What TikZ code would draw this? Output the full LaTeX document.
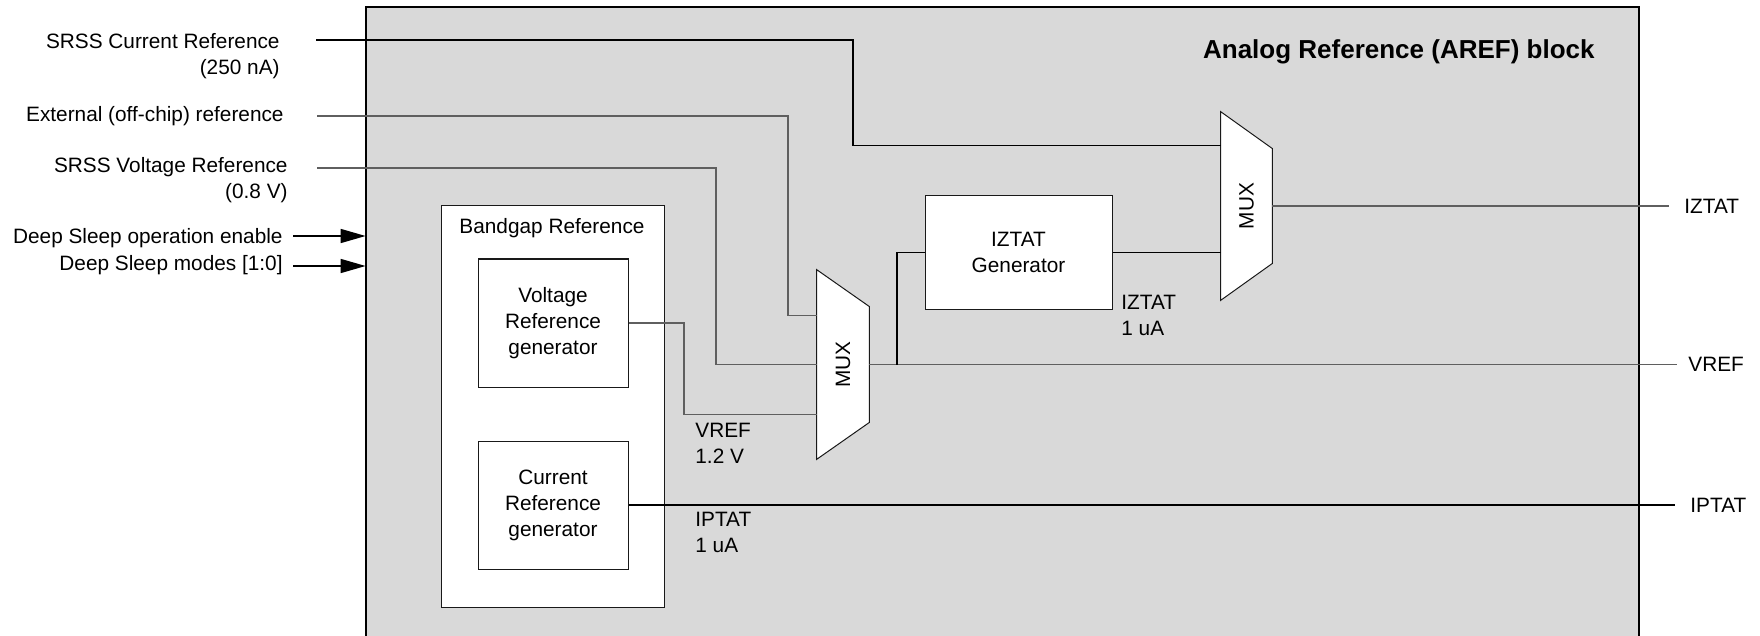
\documentclass[tikz,border=0pt]{standalone}
\usepackage{fontspec}
\setmainfont{Liberation Sans}
\usepackage{graphicx}
\usepackage{tikz}
\usetikzlibrary{arrows.meta, positioning, calc}
\definecolor{arefgray}   {RGB}{217, 217, 217}
\definecolor{arefwire}   {RGB}{ 95,  95,  95}
\definecolor{arefdark}   {RGB}{ 25,  25,  25}

\begin{document}
\begin{tikzpicture}[x=0.5pt, y=-0.5pt,
		txt/.style={font=\fontsize{10.4}{13}\selectfont, inner sep=0pt},
		blk/.style={draw=arefdark, fill=white, line width=0.5pt, inner sep=0pt, font=\fontsize{10.4}{13}\selectfont, align=center},
		wire/.style={draw=arefwire, line width=0.6pt},
		bwire/.style={draw=black, line width=0.9pt},
		twire/.style={draw=black, line width=0.55pt},
		pin/.style={line width=0.8pt, -{Triangle[length=12.5pt,width=7pt]}}]
	\useasboundingbox (0,0) rectangle (1760,636);
	\node[fill=arefgray, minimum width=636.25pt, minimum height=330pt, inner sep=0pt] (aref) at (1002.25,337) {};
	\draw[line width=1pt] (aref.south west) -- (aref.north west) -- (aref.north east) -- (aref.south east);
	\node[txt, anchor=east, font=\fontsize{13}{15}\selectfont\bfseries] (arefTitle) at (1595,52) {Analog Reference (AREF) block};
	\node[txt, anchor=north east, align=right] (srcCur) at (280,33) {SRSS Current Reference\\(250 nA)};
	\node[txt, anchor=east] (extRef) at (284,116) {External (off-chip) reference};
	\node[txt, anchor=north east, align=right] (srcVolt) at (288,157) {SRSS Voltage Reference\\(0.8 V)};
	\node[txt, anchor=east] (dsEn) at (283,238) {Deep Sleep operation enable};
	\node[txt, anchor=east] (dsModes) at (283,265) {Deep Sleep modes [1:0]};
	\coordinate (srcCurIn) at (316,40);
	\coordinate (extRefIn) at (317,116);
	\coordinate (srcVoltIn) at (317,168);
	\coordinate (dsEnIn) at (293,236);
	\coordinate (dsModesIn) at (293,266);
	\draw[pin] (dsEnIn) -- (dsEnIn -| aref.west);
	\draw[pin] (dsModesIn) -- (dsModesIn -| aref.west);
	\node[blk, minimum width=111.5pt, minimum height=200.5pt] (bandgap) at (552.5,406.5) {};
	\node[txt] (bgTitle) at (552,228) {Bandgap Reference};
	\node[blk, minimum width=75pt, minimum height=64pt] (vrefGen) at (553,323) {Voltage\\Reference\\generator};
	\node[blk, minimum width=75pt, minimum height=64pt] (curGen) at (553,505) {Current\\Reference\\generator};
	\node[blk, minimum width=93.5pt, minimum height=56.5pt] (izGen) at (1018.5,252.5) {IZTAT\\Generator};
	\node[txt, minimum width=26pt, minimum height=94.5pt] (muxV) at (843,364.5) {};
	\draw[blk] (muxV.north west) -- ($(muxV.north east)+(0,37)$) -- ($(muxV.south east)+(0,-37)$) -- (muxV.south west) -- cycle;
	\node[txt] at (muxV.center) {\rotatebox{90}{MUX}};
	\node[txt, minimum width=25.5pt, minimum height=94pt] (muxI) at (1246.5,206) {};
	\draw[blk] (muxI.north west) -- ($(muxI.north east)+(0,37)$) -- ($(muxI.south east)+(0,-37)$) -- (muxI.south west) -- cycle;
	\node[txt] at (muxI.center) {\rotatebox{90}{MUX}};
	\node[txt, anchor=north west, align=left] (vrefLbl) at (695,423) {VREF\\1.2 V};
	\node[txt, anchor=north west, align=left] (iptatLbl) at (695,512) {IPTAT\\1 uA};
	\node[txt, anchor=north west, align=left] (iztatLbl) at (1121,295) {IZTAT\\1 uA};
	\node[txt, anchor=west] (outIz) at (1684,206) {IZTAT};
	\node[txt, anchor=west] (outVref) at (1688,364.5) {VREF};
	\node[txt, anchor=west] (outIptat) at (1690,505) {IPTAT};
	\draw[bwire] (srcCurIn) -- (853,40) |- ($(muxI.north west)+(0,34)$);
	\draw[wire] (extRefIn) -- (788,116) |- ($(muxV.north west)+(0,46)$);
	\draw[wire] (srcVoltIn) -- (716,168) |- (muxV.west);
	\draw[wire] (vrefGen.east) -- (684,323) |- ($(muxV.south west)+(0,-45)$);
	\draw[wire] (muxV.east) -- ($(outVref.west)+(-11,0)$);
	\draw[twire] (897,364.5) |- (izGen.west);
	\draw[bwire] (izGen.east) -- (izGen.east -| muxI.west);
	\draw[wire] (muxI.east) -- ($(outIz.west)+(-15,0)$);
	\draw[twire] (curGen.east) -- ($(outIptat.west)+(-15,0)$);
\end{tikzpicture}
\end{document}
